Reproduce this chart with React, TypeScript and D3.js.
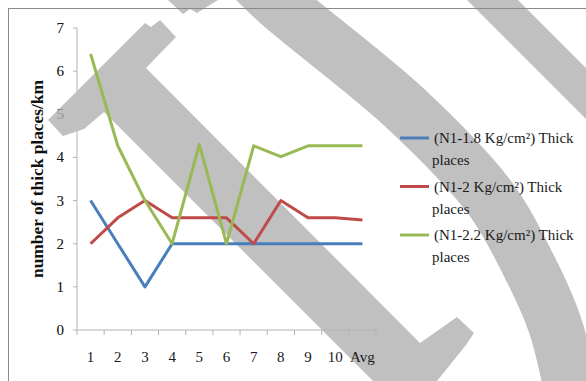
import React from "react";
import * as d3 from "d3";

const categories = ["1", "2", "3", "4", "5", "6", "7", "8", "9", "10", "Avg"];
const yTicks = [0, 1, 2, 3, 4, 5, 6, 7];
const blueValues = [3, 2, 1, 2, 2, 2, 2, 2, 2, 2, 2];
const redValues = [2, 2.6, 3, 2.6, 2.6, 2.6, 2, 3, 2.6, 2.6, 2.55];
const greenValues = [6.4, 4.27, 3, 2, 4.3, 2, 4.27, 4.02, 4.27, 4.27, 4.27];
const legendMain = ["(N1-1.8 Kg/cm²) Thick", "(N1-2 Kg/cm²) Thick", "(N1-2.2 Kg/cm²) Thick"];
const legendSecond = ["places", "places", "places"];
const colors = ["#4a7ebb", "#be4b48", "#98b954"];
const yTitle = "number of thick places/km";

const W = 586;
const H = 381;
const FONT = "Liberation Serif, Times New Roman, serif";
const WM = "#c0c0c0";
const tStyle = { fontFamily: FONT };

export default function App() {
  const x = d3.scaleBand<string>().domain(categories).range([77, 376]);
  const y = d3.scaleLinear().domain([0, 7]).range([330, 28]);
  const bw = x.bandwidth();
  const cx = (c: string) => (x(c) as number) + bw / 2;
  const series = [blueValues, redValues, greenValues];
  const line = d3
    .line<number>()
    .x((_, i) => cx(categories[i]))
    .y((d) => y(d));
  const boundaries = d3.range(categories.length + 1).map((i) => 77 + i * bw);

  // decorative watermark shapes (not data)
  const hammer =
    "M48,120 L145,23 L151,27 L160,20 L176,37 L146,68 L420,343 L457,317 L474,333 L466,345 L437,381 L373,381 L104,112 L84,129 L63,136 Z";
  const topPiece = "M168,0 L183,14 L190,9 L197,13 L218,0 Z";
  const rightBand = "M467,0 L518,0 L586,68 L586,119 Z";
  const arcPts: [number, number][] = [
    [240, -35],
    [275, 0],
    [405, 108],
    [490, 198],
    [530, 268],
    [555, 325],
    [572, 395],
  ];
  const arc = d3.line().curve(d3.curveCatmullRom.alpha(0.5))(arcPts) as string;

  const yLabels = (opacity: number) =>
    yTicks.map((t) => (
      <text
        key={t}
        x={64}
        y={y(t) + 5}
        textAnchor="end"
        fontSize={15}
        fill="#1a1a1a"
        fillOpacity={opacity}
        style={tStyle}
      >
        {t}
      </text>
    ));

  return (
    <svg
      width={W}
      height={H}
      style={{ position: "absolute", left: 0, top: 0, background: "#fff" }}
    >
      <rect x={0} y={0} width={W} height={H} fill="#fff" />
      {/* y axis */}
      <line x1={77} x2={77} y1={y(7)} y2={y(0)} stroke="#b3b3b3" strokeWidth={1} />
      {yTicks.map((t) => (
        <line key={t} x1={73} x2={77} y1={y(t)} y2={y(t)} stroke="#b3b3b3" />
      ))}
      {yLabels(1)}
      {/* watermark */}
      <g fill={WM}>
        <path d={hammer} />
        <path d={topPiece} />
        <path d={rightBand} />
        <path d={arc} fill="none" stroke={WM} strokeWidth={54} />
      </g>
      {yLabels(0.3)}
      {/* x axis */}
      <line x1={77} x2={376} y1={y(0)} y2={y(0)} stroke="#b3b3b3" />
      {boundaries.map((b, i) => (
        <line key={i} x1={b} x2={b} y1={y(0)} y2={y(0) + 5} stroke="#b3b3b3" />
      ))}
      {categories.map((c) => (
        <text key={c} x={cx(c)} y={362} textAnchor="middle" fontSize={15} fill="#1a1a1a" style={tStyle}>
          {c}
        </text>
      ))}
      {/* y title */}
      <text
        transform={`translate(43,179) rotate(-90)`}
        textAnchor="middle"
        fontSize={16}
        fontWeight="bold"
        fill="#111"
        textLength={198}
        lengthAdjust="spacingAndGlyphs"
        style={tStyle}
      >
        {yTitle}
      </text>
      {/* series */}
      {series.map((s, i) => (
        <path
          key={i}
          d={line(s) as string}
          fill="none"
          stroke={colors[i]}
          strokeWidth={3}
          strokeLinejoin="round"
        />
      ))}
      {/* legend */}
      {legendMain.map((t, i) => {
        const ly = 138 + i * 48.5;
        return (
          <g key={i}>
            <line x1={400} x2={429} y1={ly} y2={ly} stroke={colors[i]} strokeWidth={3} />
            <text x={434} y={ly + 5} fontSize={15} fill="#1a1a1a" style={tStyle}>
              {t}
            </text>
            <text x={432} y={ly + 27} fontSize={15} fill="#1a1a1a" style={tStyle}>
              {legendSecond[i]}
            </text>
          </g>
        );
      })}
      {/* frame */}
      <rect x={8.5} y={8.5} width={700} height={500} fill="none" stroke="#8a8a8a" strokeWidth={1} />
    </svg>
  );
}
